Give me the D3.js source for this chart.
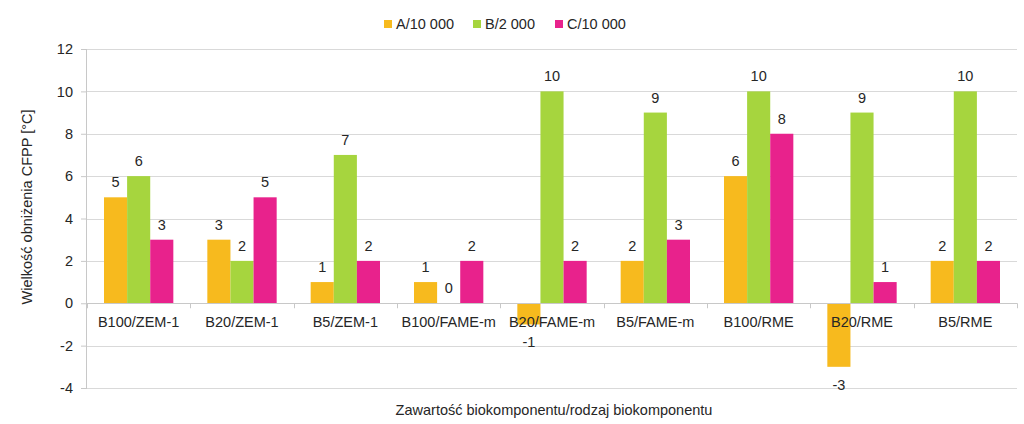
<!DOCTYPE html>
<html><head><meta charset="utf-8">
<script src="https://cdn.jsdelivr.net/npm/d3@7"></script>
<style>body{margin:0;background:#fff}svg{font-family:"Liberation Sans",Arial,sans-serif}</style>
</head><body><svg id="c" width="1024" height="424"></svg>
<script>
const categories = ["B100/ZEM-1","B20/ZEM-1","B5/ZEM-1","B100/FAME-m","B20/FAME-m","B5/FAME-m","B100/RME","B20/RME","B5/RME"];
const seriesNames = ["A/10 000","B/2 000","C/10 000"];
const seriesA = [5,3,1,1,-1,2,6,-3,2];
const seriesB = [6,2,7,0,10,9,10,9,10];
const seriesC = [3,5,2,2,2,3,8,1,2];
const yTicks = [-4,-2,0,2,4,6,8,10,12];
const colors = ["#F7BA1E","#A6D53E","#E8228C"];

const FS = 14.5, TC = "#262626";
const svg = d3.select("#c");
const L=87,R=1017,T=49,B=388;
const x = d3.scaleBand().domain(categories).range([L,R]);
const xs = d3.scaleBand().domain(seriesNames).range([17, x.bandwidth()-17]);
const y = d3.scaleLinear().domain([-4,12]).range([B,T]);

svg.append("g").selectAll("line").data(yTicks).join("line")
  .attr("x1",L).attr("x2",R).attr("y1",d=>Math.round(y(d))+0.5).attr("y2",d=>Math.round(y(d))+0.5)
  .attr("stroke","#d9d9d9").attr("stroke-width",1);

const ya = svg.append("g").attr("transform",`translate(${L},0)`)
  .call(d3.axisLeft(y).tickValues(yTicks).tickSize(6).tickPadding(8).tickFormat(d=>String(d)));
ya.select(".domain").attr("stroke","#c8c8c8").attr("d",`M-0.5,${T}V${B}`);
ya.selectAll(".tick line").attr("stroke","#c8c8c8");
ya.selectAll("text").attr("font-size",FS).attr("fill",TC).style("font-family","Liberation Sans, Arial, sans-serif");

const series = [seriesA,seriesB,seriesC];
const data = [];
categories.forEach((c,i)=>seriesNames.forEach((s,j)=>data.push({c,s,j,v:series[j][i]})));

svg.append("g").selectAll("rect").data(data).join("rect")
  .attr("x",d=>x(d.c)+xs(d.s)).attr("width",xs.bandwidth())
  .attr("y",d=>y(Math.max(0,d.v))).attr("height",d=>Math.abs(y(d.v)-y(0)))
  .attr("fill",d=>colors[d.j]);

svg.append("line").attr("x1",L).attr("x2",R).attr("y1",Math.round(y(0))+0.5).attr("y2",Math.round(y(0))+0.5)
  .attr("stroke","#c8c8c8");
const bounds = categories.map(c=>x(c)).concat([R]);
svg.append("g").selectAll("line").data(bounds).join("line")
  .attr("x1",d=>Math.round(d)+0.5).attr("x2",d=>Math.round(d)+0.5).attr("y1",y(0)).attr("y2",y(0)+5)
  .attr("stroke","#c8c8c8");

svg.append("g").selectAll("text").data(categories).join("text")
  .attr("x",d=>x(d)+x.bandwidth()/2).attr("y",y(0)+24)
  .attr("text-anchor","middle").attr("font-size",FS).attr("fill",TC).text(d=>d);

svg.append("g").selectAll("text").data(data).join("text")
  .attr("x",d=>x(d.c)+xs(d.s)+xs.bandwidth()/2)
  .attr("y",d=>d.v<0 ? y(d.v)+23 : y(d.v)-10)
  .attr("text-anchor","middle").attr("font-size",FS).attr("fill",TC).text(d=>d.v);

svg.append("text").attr("transform",`translate(32,207) rotate(-90)`)
  .attr("text-anchor","middle").attr("font-size",FS).attr("fill",TC).text("Wielkość obniżenia CFPP [°C]");
svg.append("text").attr("x",(L+R)/2+2).attr("y",415)
  .attr("text-anchor","middle").attr("font-size",FS).attr("fill",TC).text("Zawartość biokomponentu/rodzaj biokomponentu");

const lx=[384,473,555];
const lg = svg.append("g").selectAll("g").data(seriesNames).join("g")
  .attr("transform",(d,i)=>`translate(${lx[i]},0)`);
lg.append("rect").attr("x",0).attr("y",20).attr("width",8).attr("height",8).attr("fill",(d,i)=>colors[i]);
lg.append("text").attr("x",12).attr("y",29).attr("font-size",FS).attr("fill",TC).text(d=>d);
</script></body></html>
